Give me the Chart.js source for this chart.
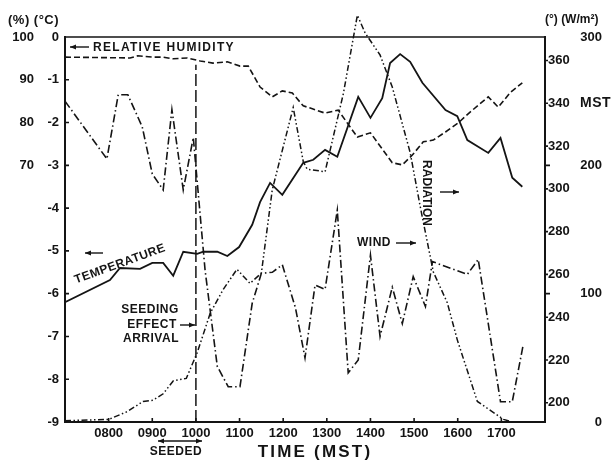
<!DOCTYPE html>
<html>
<head>
<meta charset="utf-8">
<script src="https://cdn.jsdelivr.net/npm/chart.js@4.4.1/dist/chart.umd.min.js"></script>
<style>
  html, body { margin: 0; padding: 0; background: #fff; }
  #wrap { width: 613px; height: 461px; position: relative; }
</style>
</head>
<body>
<div id="wrap"><canvas id="chart"></canvas></div>
<script>
// time in decimal hours (MST)
const tempTimes = [7.0, 8.03, 8.26, 8.72, 9.0, 9.25, 9.48, 9.71, 10.03, 10.17, 10.49, 10.72, 10.99, 11.29, 11.47, 11.7, 11.98, 12.46, 12.69, 12.96, 13.24, 13.72, 14.0, 14.27, 14.45, 14.68, 14.91, 15.19, 15.72, 15.99, 16.22, 16.7, 16.98, 17.25, 17.48];
const tempValues = [-6.2, -5.68, -5.4, -5.42, -5.28, -5.28, -5.58, -5.02, -5.07, -5.02, -5.02, -5.12, -4.91, -4.39, -3.86, -3.41, -3.69, -2.94, -2.87, -2.64, -2.8, -1.4, -1.89, -1.43, -0.61, -0.4, -0.58, -1.07, -1.71, -1.85, -2.41, -2.71, -2.36, -3.29, -3.5];

const humTimes = [7.0, 8.49, 8.67, 9.02, 9.25, 9.48, 9.8, 10.1, 10.39, 10.72, 11.01, 11.2, 11.47, 11.75, 11.98, 12.21, 12.46, 12.62, 12.96, 13.26, 13.7, 14.0, 14.5, 14.73, 14.96, 15.21, 15.44, 15.72, 16.01, 16.29, 16.7, 16.93, 17.21, 17.48];
const humValues = [95.3, 95.1, 95.6, 95.3, 95.3, 94.9, 95.1, 94.4, 93.9, 94.2, 93.2, 93.2, 88.3, 86.0, 87.4, 86.9, 83.9, 83.4, 82.2, 82.9, 76.6, 77.6, 70.6, 70.1, 72.4, 75.5, 75.9, 77.8, 79.9, 82.5, 86.0, 83.6, 87.1, 89.3];

const windTimes = [7.0, 7.96, 8.22, 8.44, 8.77, 9.0, 9.25, 9.45, 9.71, 9.94, 10.21, 10.49, 10.74, 11.01, 11.29, 11.5, 11.75, 11.98, 12.28, 12.5, 12.73, 12.96, 13.24, 13.49, 13.72, 14.0, 14.22, 14.5, 14.73, 14.98, 15.26, 15.42, 16.22, 16.47, 16.98, 17.25, 17.5];
const windValues = [341, 314, 344, 344, 329, 307, 299.5, 337, 299.5, 324, 262, 217, 207.5, 207.5, 246.5, 260.5, 261, 264.5, 244.5, 221, 255, 253, 290, 214, 220, 269, 231, 254, 237, 259, 245, 266, 260, 267, 200.5, 200.5, 227];

const radTimes = [7.0, 8.0, 8.42, 8.79, 9.02, 9.25, 9.48, 9.78, 10.03, 10.33, 10.62, 10.94, 11.24, 11.5, 11.75, 12.23, 12.46, 12.55, 12.96, 13.38, 13.7, 13.88, 14.22, 14.5, 14.91, 15.14, 15.44, 15.76, 15.99, 16.45, 17.05, 17.25];
const radValues = [1, 2, 8, 16, 17, 22, 32, 34, 54, 85, 103, 119, 108, 116, 181, 245, 203, 197, 195, 256, 317, 303, 286, 261, 210, 168, 117, 93, 64, 16, 2, 0];

const seedTime = 10.0;
const seedSpan = [-9, -0.65];

const hourTicks = [8, 9, 10, 11, 12, 13, 14, 15, 16, 17];
const tempTicks = [0, -1, -2, -3, -4, -5, -6, -7, -8, -9];
const humTicks = [100, 90, 80, 70];
const windTicks = [200, 220, 240, 260, 280, 300, 320, 340, 360];
const radTicks = [0, 100, 200, 300];

const pairs = (xs, ys) => xs.map((x, i) => ({ x, y: ys[i] }));

const ink = '#141414';
const face = '"Liberation Sans", Arial, sans-serif';
const tickFont = { family: face, size: 13, weight: 'bold' };

function say(ctx, text, x, y, size, opts = {}) {
  ctx.save();
  ctx.translate(x, y);
  if (opts.rotate) ctx.rotate(opts.rotate * Math.PI / 180);
  ctx.font = `bold ${size}px ${face}`;
  if ('letterSpacing' in ctx) ctx.letterSpacing = (opts.spacing ?? 1) + 'px';
  ctx.fillStyle = ink;
  ctx.textAlign = opts.align || 'left';
  ctx.textBaseline = 'middle';
  ctx.fillText(text, 0, 0);
  ctx.restore();
}

function head(ctx, x, y, dir) {
  ctx.beginPath();
  ctx.moveTo(x, y);
  ctx.lineTo(x - dir * 6, y - 2.5);
  ctx.lineTo(x - dir * 6, y + 2.5);
  ctx.closePath();
  ctx.fill();
}

// horizontal arrow, head at x2 (and at x1 too if both)
function arrow(ctx, x1, x2, y, both) {
  ctx.save();
  ctx.strokeStyle = ink;
  ctx.fillStyle = ink;
  ctx.lineWidth = 1.4;
  ctx.beginPath();
  ctx.moveTo(x1, y);
  ctx.lineTo(x2, y);
  ctx.stroke();
  head(ctx, x2, y, Math.sign(x2 - x1));
  if (both) head(ctx, x1, y, Math.sign(x1 - x2));
  ctx.restore();
}

const extras = {
  id: 'extras',
  afterDraw(chart) {
    const { ctx, chartArea: a, scales } = chart;
    ctx.save();
    ctx.strokeStyle = ink;
    ctx.lineWidth = 1.6;
    ctx.beginPath();
    ctx.moveTo(a.left, a.top);
    ctx.lineTo(a.right, a.top);
    // inward ticks
    tempTicks.forEach(v => {
      const y = scales.yT.getPixelForValue(v);
      ctx.moveTo(a.left, y); ctx.lineTo(a.left + 4, y);
    });
    hourTicks.forEach(v => {
      const x = scales.x.getPixelForValue(v);
      ctx.moveTo(x, a.bottom); ctx.lineTo(x, a.bottom - 4);
    });
    windTicks.forEach(v => {
      const y = scales.yW.getPixelForValue(v);
      ctx.moveTo(a.right, y); ctx.lineTo(a.right + 3, y);
    });
    [100, 200].forEach(v => {
      const y = scales.yR.getPixelForValue(v);
      ctx.moveTo(a.right, y); ctx.lineTo(a.right + 5, y);
    });
    ctx.stroke();
    ctx.restore();

    say(ctx, '(%) (°C)', 8, 20, 13, { spacing: 0.5 });
    say(ctx, '(°) (W/m²)', 545, 20, 12, { spacing: 0 });
    say(ctx, 'MST', 580, scales.yW.getPixelForValue(340), 14, { spacing: 0.5 });

    arrow(ctx, 89, 70, 47);
    say(ctx, 'RELATIVE HUMIDITY', 93, 48, 12, { spacing: 1.3 });

    arrow(ctx, 103, 85, 253);
    say(ctx, 'TEMPERATURE', 120, 264, 12, { rotate: -20, align: 'center', spacing: 0.5 });

    say(ctx, 'SEEDING', 150, 310, 12, { align: 'center', spacing: 0.5 });
    say(ctx, 'EFFECT', 152, 325, 12, { align: 'center', spacing: 0.5 });
    say(ctx, 'ARRIVAL', 151, 339, 12, { align: 'center', spacing: 0.5 });
    arrow(ctx, 180, 195, 325);

    say(ctx, 'WIND', 357, 243, 12, { spacing: 0.5 });
    arrow(ctx, 396, 416, 243);

    say(ctx, 'RADIATION', 426, 193, 12, { rotate: 90, align: 'center', spacing: 0 });
    arrow(ctx, 440, 459, 192);

    arrow(ctx, 158, 202, 441, true);
    say(ctx, 'SEEDED', 176, 452, 12, { align: 'center', spacing: 0.5 });
    say(ctx, 'TIME (MST)', 315, 452, 17, { align: 'center', spacing: 2.2 });
  }
};

const base = { pointRadius: 0, tension: 0, borderColor: ink, fill: false };

new Chart(document.getElementById('chart'), {
  type: 'line',
  data: {
    datasets: [
      { ...base, data: pairs(tempTimes, tempValues), yAxisID: 'yT', borderWidth: 1.8 },
      { ...base, data: pairs(humTimes, humValues), yAxisID: 'yH', borderWidth: 1.6, borderDash: [6, 3] },
      { ...base, data: pairs(windTimes, windValues), yAxisID: 'yW', borderWidth: 1.6, borderDash: [8, 3, 1.5, 3] },
      { ...base, data: pairs(radTimes, radValues), yAxisID: 'yR', borderWidth: 1.5, borderDash: [6, 2.5, 1.5, 2.5, 1.5, 2.5], clip: false },
      { ...base, data: seedSpan.map(y => ({ x: seedTime, y })), yAxisID: 'yT', borderWidth: 1.5, borderDash: [12, 4] }
    ]
  },
  options: {
    responsive: true,
    maintainAspectRatio: false,
    animation: false,
    layout: { padding: { top: 37, right: 11, left: 0, bottom: 0 } },
    plugins: { legend: { display: false }, tooltip: { enabled: false } },
    scales: {
      x: {
        type: 'linear', min: 7, max: 18,
        grid: { display: false, drawTicks: false },
        border: { display: true, color: ink, width: 2 },
        afterBuildTicks: s => { s.ticks = hourTicks.map(value => ({ value })); },
        ticks: { color: ink, font: tickFont, padding: 4, autoSkip: false, maxRotation: 0,
          callback: v => String(v * 100).padStart(4, '0') },
        afterFit: s => { s.height = 39; }
      },
      yT: {
        position: 'left', weight: 0, min: -9, max: 0,
        grid: { display: false, drawTicks: false },
        border: { display: true, color: ink, width: 2 },
        afterBuildTicks: s => { s.ticks = tempTicks.map(value => ({ value })); },
        ticks: { color: ink, font: tickFont, padding: 6, autoSkip: false },
        afterFit: s => { s.width = 29; }
      },
      yH: {
        position: 'left', weight: 1, min: 10, max: 100,
        grid: { display: false, drawTicks: false },
        border: { display: false },
        afterBuildTicks: s => { s.ticks = humTicks.map(value => ({ value })); },
        ticks: { color: ink, font: tickFont, padding: 2, autoSkip: false },
        afterFit: s => { s.width = 36; }
      },
      yW: {
        position: 'right', weight: 0, min: 191, max: 371,
        grid: { display: false, drawTicks: false },
        border: { display: true, color: ink, width: 2 },
        afterBuildTicks: s => { s.ticks = windTicks.map(value => ({ value })); },
        ticks: { color: ink, font: tickFont, padding: 3, autoSkip: false },
        afterFit: s => { s.width = 35; }
      },
      yR: {
        position: 'right', weight: 1, min: 0, max: 300,
        grid: { display: false, drawTicks: false },
        border: { display: false },
        afterBuildTicks: s => { s.ticks = radTicks.map(value => ({ value })); },
        ticks: { color: ink, font: tickFont, padding: 0, autoSkip: false, crossAlign: 'far' },
        afterFit: s => { s.width = 22; }
      }
    }
  },
  plugins: [extras]
});
</script>
</body>
</html>
